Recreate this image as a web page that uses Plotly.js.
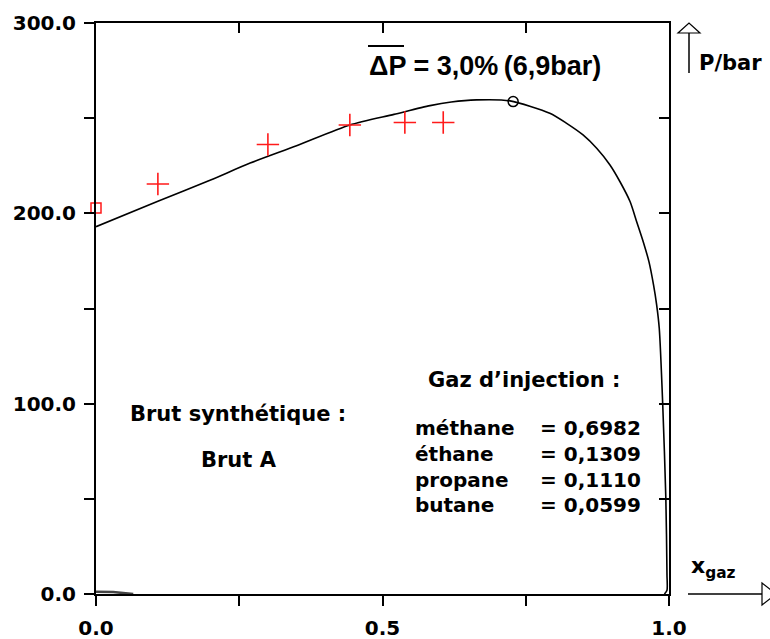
<!DOCTYPE html>
<html>
<head>
<meta charset="utf-8">
<script src="https://cdn.plot.ly/plotly-3.0.1.min.js"></script>
<style>html,body{margin:0;padding:0;background:#fff;}#chart{width:770px;height:639px;}</style>
</head>
<body>
<div id="chart"></div>
<script>
// Calculated bubble/dew curve (x_gaz, P/bar)
const curveX = [0, 0.108, 0.2, 0.269, 0.35, 0.443, 0.52, 0.583, 0.62, 0.664, 0.7225, 0.792, 0.8214, 0.85, 0.8738, 0.897, 0.9145, 0.932, 0.9436, 0.955, 0.965, 0.973, 0.9785, 0.983, 0.989, 0.9945, 0.9965, 0.9965, 0.992];
const curveP = [193, 206.3, 217.5, 226.4, 235.5, 246.4, 252, 256.6, 258.5, 259.6, 259.1, 252.6, 247.3, 241.2, 234.2, 225.4, 216.6, 206.2, 195.6, 185.1, 174.6, 162.4, 151.8, 139.6, 100, 50, 10, 2, 0];
// Short dew branch near zero pressure
const dewX = [0, 0.03, 0.065];
const dewP = [1.2, 1.0, 0];
// Experimental points
const expX = [0.108, 0.300, 0.443, 0.539, 0.606];
const expP = [215.4, 236.2, 246.4, 247.7, 247.7];
// Starting point (x=0)
const startX = [0];
const startP = [202.8];
// Critical point
const critX = [0.728];
const critP = [258.7];
// Ticks
const xTickVals = [0, 0.25, 0.5, 0.75, 1];
const xTickText = ['0.0', '', '0.5', '', '1.0'];
const yTickVals = [0, 50, 100, 150, 200, 250, 300];
const yTickText = ['0.0', '', '100.0', '', '200.0', '', '300.0'];
// Texts
const titleText = 'ΔP = 3,0%\u2009(6,9bar)';
const components = ['méthane', 'éthane', 'propane', 'butane'];
const fractions = ['0,6982', '0,1309', '0,1110', '0,0599'];

const F = 'DejaVu Sans';
const tickFont = {family: F, size: 20, color: '#000', weight: 'bold'};

const traces = [
  {x: curveX, y: curveP, mode: 'lines', line: {color: '#000', width: 1.6, shape: 'spline', smoothing: 0.7}, hoverinfo: 'skip', showlegend: false, cliponaxis: false},
  {x: dewX, y: dewP, mode: 'lines', line: {color: '#444', width: 2.5}, showlegend: false, cliponaxis: false},
  {x: expX, y: expP, mode: 'markers', marker: {symbol: 'cross-thin-open', size: 16, line: {color: '#ff1a1a', width: 1.6}, color: '#ff1a1a'}, showlegend: false, cliponaxis: false},
  {x: startX, y: startP, mode: 'markers', marker: {symbol: 'square-open', size: 10, line: {color: '#ff1a1a', width: 1.5}, color: '#ff1a1a'}, showlegend: false, cliponaxis: false},
  {x: critX, y: critP, mode: 'markers', marker: {symbol: 'circle-open', size: 10, line: {color: '#000', width: 1.5}, color: '#000'}, showlegend: false, cliponaxis: false},
  {x: [], y: [], xaxis: 'x2', yaxis: 'y2', showlegend: false}
];

const px = v => (v - 96) / 573;
const py = v => (594 - v) / 571;

const annotations = [
  {xref: 'paper', yref: 'paper', x: px(367), y: py(66), xanchor: 'left', yanchor: 'middle', text: '<b>' + titleText + '</b>', showarrow: false, font: {family: 'Liberation Sans', size: 27, color: '#000'}},
  {xref: 'paper', yref: 'paper', x: px(697), y: py(63), xanchor: 'left', yanchor: 'middle', text: '<b>P/bar</b>', showarrow: false, font: {family: F, size: 21, color: '#000'}},
  {xref: 'paper', yref: 'paper', x: px(689), y: py(567), xanchor: 'left', yanchor: 'middle', text: '<b>x<sub>gaz</sub></b>', showarrow: false, font: {family: F, size: 22, color: '#000'}},
  {xref: 'paper', yref: 'paper', x: px(524), y: py(380), xanchor: 'center', yanchor: 'middle', text: '<b>Gaz d’injection :</b>', showarrow: false, font: {family: F, size: 21, color: '#000'}},
  {xref: 'paper', yref: 'paper', x: px(238), y: py(414), xanchor: 'center', yanchor: 'middle', text: '<b>Brut synthétique :</b>', showarrow: false, font: {family: F, size: 21, color: '#000'}},
  {xref: 'paper', yref: 'paper', x: px(238.5), y: py(460), xanchor: 'center', yanchor: 'middle', text: '<b>Brut A</b>', showarrow: false, font: {family: F, size: 21, color: '#000'}}
];
const lineY = [428, 454, 479.5, 505];
components.forEach((c, i) => {
  annotations.push({xref: 'paper', yref: 'paper', x: px(412.7), y: py(lineY[i]), xanchor: 'left', yanchor: 'middle', text: '<b>' + c + '</b>', showarrow: false, font: {family: F, size: 20, color: '#000'}});
  annotations.push({xref: 'paper', yref: 'paper', x: px(538), y: py(lineY[i]), xanchor: 'left', yanchor: 'middle', text: '<b>= ' + fractions[i] + '</b>', showarrow: false, font: {family: F, size: 20, color: '#000'}});
});

const shapes = [
  // overline over ΔP
  {type: 'line', xref: 'paper', yref: 'paper', x0: px(368), x1: px(404), y0: py(46), y1: py(46), line: {color: '#000', width: 2}},
  // P axis arrow
  {type: 'line', xref: 'paper', yref: 'paper', x0: px(689), x1: px(689), y0: py(73), y1: py(33), line: {color: '#000', width: 1.5}},
  {type: 'path', xref: 'paper', yref: 'paper', path: `M ${px(678)},${py(33)} L ${px(700)},${py(33)} L ${px(689)},${py(23)} Z`, line: {color: '#000', width: 1.2}, fillcolor: '#fff'},
  // x axis arrow
  {type: 'line', xref: 'paper', yref: 'paper', x0: px(688), x1: px(762), y0: py(594), y1: py(594), line: {color: '#000', width: 1.5}},
  {type: 'path', xref: 'paper', yref: 'paper', path: `M ${px(762)},${py(583)} L ${px(762)},${py(605)} L ${px(776)},${py(594)} Z`, line: {color: '#000', width: 1.2}, fillcolor: '#fff'}
];

const axisCommon = {showgrid: false, zeroline: false, showline: true, linecolor: '#000', linewidth: 2, tickcolor: '#000', tickwidth: 2, ticklen: 10};

const layout = {
  width: 770, height: 639,
  margin: {l: 96, r: 101, t: 23, b: 45, pad: 0},
  paper_bgcolor: '#fff', plot_bgcolor: '#fff',
  showlegend: false,
  xaxis: Object.assign({}, axisCommon, {range: [0, 1], tickmode: 'array', tickvals: xTickVals, ticktext: xTickText, ticks: 'outside', tickfont: tickFont, ticklabelstandoff: 5}),
  yaxis: Object.assign({}, axisCommon, {range: [0, 300], tickmode: 'array', tickvals: yTickVals, ticktext: yTickText, ticks: 'outside', tickfont: tickFont, ticklabelstandoff: 4}),
  xaxis2: Object.assign({}, axisCommon, {range: [0, 1], overlaying: 'x', side: 'top', anchor: 'y', tickmode: 'array', tickvals: xTickVals, ticks: 'inside', showticklabels: false}),
  yaxis2: Object.assign({}, axisCommon, {range: [0, 300], overlaying: 'y', side: 'right', anchor: 'x', tickmode: 'array', tickvals: yTickVals, ticks: 'inside', showticklabels: false}),
  annotations: annotations,
  shapes: shapes
};

Plotly.newPlot('chart', traces, layout, {displayModeBar: false, staticPlot: true});
</script>
</body>
</html>
